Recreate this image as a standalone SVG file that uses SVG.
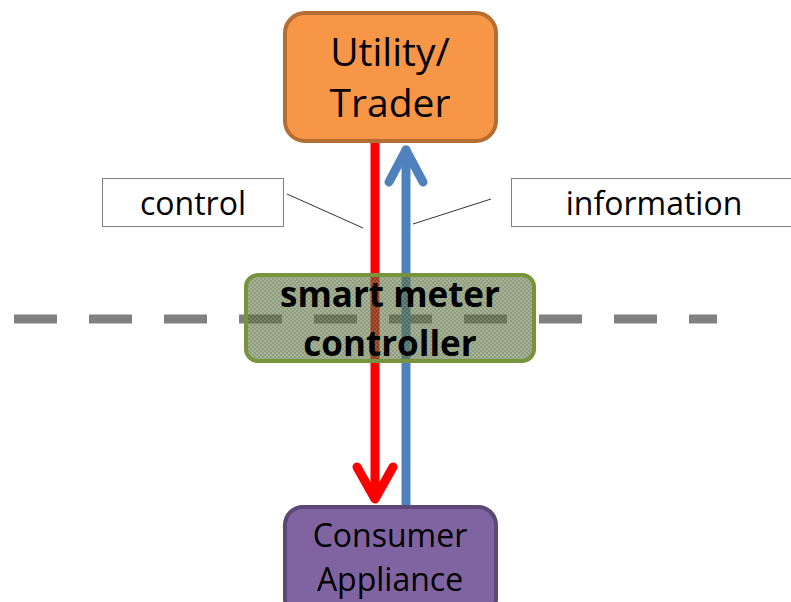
<svg xmlns="http://www.w3.org/2000/svg" width="791" height="602" viewBox="0 0 791 602">
  <defs>
    <!-- fine checker texture for the controller body -->
    <pattern id="dots" width="4" height="4" patternUnits="userSpaceOnUse">
      <rect width="4" height="4" fill="#4f6236"/>
      <rect width="2" height="2" fill="#6c8250"/>
      <rect x="2" y="2" width="2" height="2" fill="#6c8250"/>
    </pattern>
  </defs>
  <style>
    .node-text { font-family: "Open Sans", "Liberation Sans", sans-serif; fill: #000; text-anchor: middle; }
    .label-box { fill: #fff; stroke: #808080; stroke-width: 1; }
    .leader { stroke: #333; stroke-width: 1; fill: none; }
    .flow { fill: none; stroke-width: 9; stroke-linecap: round; stroke-linejoin: round; }
  </style>

  <rect width="791" height="602" fill="#fff"/>

  <!-- boundary line -->
  <line x1="14" y1="319" x2="717" y2="319" stroke="#808080" stroke-width="9" stroke-dasharray="43 32"/>

  <g id="connectors">
    <!-- control: utility to appliance -->
    <line class="flow" x1="375" y1="142" x2="375" y2="498" stroke="#ff0000" stroke-linecap="butt"/>
    <polyline class="flow" points="357,467 375,499 393,467" stroke="#ff0000"/>
    <!-- information: appliance to utility -->
    <line class="flow" x1="406" y1="507" x2="406" y2="150" stroke="#4f81bd" stroke-linecap="butt"/>
    <polyline class="flow" points="389,182 406,150 423,182" stroke="#4f81bd"/>
    <!-- label leaders -->
    <line class="leader" x1="287" y1="194" x2="363" y2="228"/>
    <line class="leader" x1="491" y1="199" x2="413" y2="224"/>
  </g>

  <g id="utility">
    <rect x="285" y="13" width="211" height="128" rx="20" fill="#f79646" stroke="#b66d31" stroke-width="4"/>
    <text class="node-text" x="390" y="66" font-size="39">Utility/</text>
    <text class="node-text" x="390" y="117" font-size="39">Trader</text>
  </g>

  <g id="appliance">
    <rect x="285" y="507" width="211" height="110" rx="18" fill="#8064a2" stroke="#5c4776" stroke-width="4"/>
    <text class="node-text" x="390" y="547" font-size="32">Consumer</text>
    <text class="node-text" x="390" y="591" font-size="32">Appliance</text>
  </g>

  <g id="smart-meter">
    <rect x="246" y="275" width="288" height="86" rx="12" fill="url(#dots)" fill-opacity="0.62" stroke="#77933c" stroke-width="4"/>
    <text class="node-text" x="390" y="307" font-size="35" font-weight="bold">smart meter</text>
    <text class="node-text" x="390" y="356" font-size="35" font-weight="bold">controller</text>
  </g>

  <g id="label-control">
    <rect class="label-box" x="102.5" y="178.5" width="181" height="48"/>
    <text class="node-text" x="193" y="215" font-size="32">control</text>
  </g>

  <g id="label-information">
    <rect class="label-box" x="511.5" y="178.5" width="290" height="48"/>
    <text class="node-text" x="654" y="215" font-size="32">information</text>
  </g>
</svg>
